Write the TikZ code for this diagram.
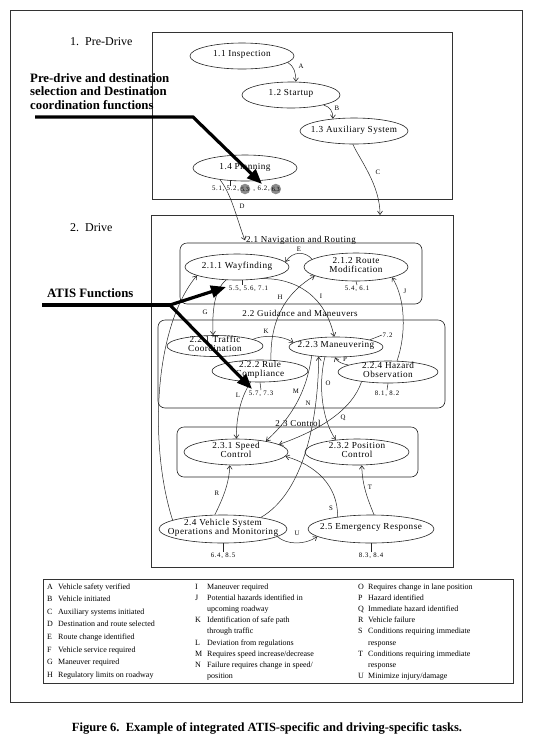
\documentclass[tikz,border=0pt]{standalone}
\usepackage{fontspec}
\setmainfont{Liberation Serif}
\newfontfamily\dfont[LetterSpace=5]{Liberation Serif}
\newfontfamily\nfont[LetterSpace=10]{Liberation Serif}
\usetikzlibrary{shapes.geometric,arrows.meta}
\newcommand\et[1]{\raisebox{-2.6pt}{\makebox[0pt]{\smash{\begin{tabular}{@{}c@{}}#1\end{tabular}}}}}
\newcommand\lgd[6]{%
  \node[lgl] (l#1) at (#2,#4) {#5};
  \node[lgl] (t#1) at (#3,#4) {#6};}
\begin{document}
\begin{tikzpicture}[x=1pt,y=-1pt,
  ln/.style={draw=black!85,line width=0.5pt},
  ell/.style={ellipse,draw=black!85,line width=0.6pt,fill=white,inner sep=0pt,
    font=\dfont\fontsize{9.2}{8.2}\selectfont},
  grp/.style={draw=black!85,line width=0.6pt,rounded corners=7pt},
  box/.style={draw=black!80,line width=0.6pt},
  arr/.style={draw=black!85,line width=0.5pt,-{Straight Barb[length=3.5pt,width=5pt,line width=0.6pt]}},
  cl/.style={font=\fontsize{6.8}{7}\selectfont,inner sep=0pt},
  num/.style={font=\nfont\fontsize{6.8}{7}\selectfont,inner sep=0.4pt},
  gc/.style={circle,fill=black!45,inner sep=0pt,minimum size=10.5pt,font=\fontsize{6.3}{7}\selectfont,text=black},
  glab/.style={font=\dfont\fontsize{9}{9}\selectfont,inner sep=0.8pt,anchor=base},
  sec/.style={font=\fontsize{12}{12}\selectfont,anchor=base west,inner sep=0pt},
  note/.style={font=\bfseries\fontsize{12.8}{13.5}\selectfont,align=left,anchor=north west,inner sep=0pt},
  bigline/.style={line width=3.2pt,line cap=butt},
  big/.style={line width=3.2pt,-{Triangle[length=15pt,width=12pt]}},
  lgl/.style={font=\fontsize{8}{9}\selectfont,anchor=base west,inner sep=0pt}
]
\fill[white] (0,0) rectangle (534,748);
\useasboundingbox (0,0) rectangle (534,748);

% frames
\draw[box] (10,10) rectangle (522,702);
\draw[box] (152,32) rectangle (452,199);
\draw[box] (151,215) rectangle (453,567);
\draw[box] (43,579) rectangle (513,683);
\draw[grp] (180,243) rectangle (422,304);
\draw[grp] (158,320) rectangle (445,408);
\draw[grp] (177,427) rectangle (418,477);

% section titles
\node[sec] (s1) at (70,45.5) {1.\ \ Pre-Drive};
\node[sec] (s2) at (70,231) {2.\ \ Drive};

% group labels
\node[glab] (nav) at (301,242.5) {2.1 Navigation and Routing};
\node[glab] (gui) at (300,316.5) {2.2 Guidance and Maneuvers};
\node[glab] (ctl) at (298,426) {2.3 Control};

% ellipses
\node[ell,minimum width=104pt,minimum height=26pt] (n11) at (242,56) {\et{1.1 Inspection}};
\node[ell,minimum width=98pt,minimum height=26pt] (n12) at (291,95) {\et{1.2 Startup}};
\node[ell,minimum width=108pt,minimum height=26pt] (n13) at (354,131) {\et{1.3 Auxiliary System}};
\node[ell,minimum width=104pt,minimum height=26pt] (n14) at (245,168) {\et{1.4 Planning}};
\node[ell,minimum width=104pt,minimum height=26pt] (n211) at (237,267) {\et{2.1.1 Wayfinding}};
\node[ell,minimum width=104pt,minimum height=28pt] (n212) at (356,267) {\et{2.1.2 Route\\Modification}};
\node[ell,minimum width=96pt,minimum height=21pt] (n221) at (215,346) {\et{2.2.1 Traffic\\Coordination}};
\node[ell,minimum width=96pt,minimum height=22pt] (n222) at (260,371) {\et{2.2.2 Rule\\Compliance}};
\node[ell,minimum width=94pt,minimum height=20pt] (n223) at (336,347) {\et{2.2.3 Maneuvering}};
\node[ell,minimum width=100pt,minimum height=22pt] (n224) at (388,372) {\et{2.2.4 Hazard\\Observation}};
\node[ell,minimum width=104pt,minimum height=26pt] (n231) at (236,452) {\et{2.3.1 Speed\\Control}};
\node[ell,minimum width=104pt,minimum height=26pt] (n232) at (357,452) {\et{2.3.2 Position\\Control}};
\node[ell,minimum width=128pt,minimum height=28pt] (n24) at (223,529) {\et{2.4 Vehicle System\\Operations and Monitoring}};
\node[ell,minimum width=126pt,minimum height=28pt] (n25) at (371,529) {\et{2.5 Emergency Response}};

% reference numbers
\node[gc] (p2) at (245,189) {5.3};
\node[num,anchor=east] (p1) at (p2.west) {5.1, 5.2,};
\node[num,anchor=west] (p3) at (p2.east) {\ , 6.2,};
\node[gc,anchor=west] (p4) at (p3.east) {6.3};
\draw[ln] (n14.-140) -- (n14.-140 |- p1.north);
\node[num] (m211) at (248.5,288.5) {5.5, 5.6, 7.1};
\draw[ln] (n211.-70) -- (n211.-70 |- m211.north);
\node[num] (m212) at (357,288.5) {5.4, 6.1};
\draw[ln] (n212.south) -- (m212.north);
\node[num] (m222) at (261,393.5) {5.7, 7.3};
\draw[ln] (n222.south) -- (m222.north);
\node[num] (m224) at (387,393.5) {8.1, 8.2};
\draw[ln] (n224.south) -- (m224.north);
\node[num,anchor=west] (m223) at (382,335) {7.2};
\draw[ln] (n223.12) -- (m223.west);
\node[num] (m24) at (223,555.5) {6.4, 8.5};
\draw[ln] (n24.south) -- (m24.north);
\node[num] (m25) at (371,555.5) {8.3, 8.4};
\draw[ln] (n25.south) -- (m25.north);

% connectors
\draw[arr] (n11.-8) .. controls (294,66) and (296,73) .. (n12.70);
\node[cl] (lA) at (301,66) {A};
\draw[arr] (n12.-17) .. controls (330,107) and (333,111) .. (n13.150);
\node[cl] (lB) at (337,108) {B};
\coordinate (cC) at (380,215);
\draw[arr] (n13.-95) .. controls (360,160) and (380,185) .. (cC);
\node[cl] (lC) at (378,172) {C};
\draw[arr] (n14.-155) .. controls (232,195) and (237,220) .. (nav.west);
\node[cl] (lD) at (242,206) {D};
\draw[arr] (n212.170) .. controls (305,251) and (293,251) .. (n211.6);
\node[cl] (lE) at (299,249) {E};
\draw[arr] (n24.170) .. controls (150,450) and (152,330) .. (n211.192);
\draw[arr] (n211.-130) .. controls (214,290) and (212,312) .. (n221.100);
\node[cl] (lG) at (205,312) {G};
\draw[arr] (n222.45) .. controls (270,325) and (282,295) .. (n212.-168);
\node[cl] (lH) at (280,297) {H};
\draw[arr] (n211.-25) .. controls (295,278) and (325,295) .. (n223.100);
\node[cl] (lI) at (321,296) {I};
\draw[arr] (n224.51) .. controls (406,335) and (406,300) .. (n212.-16);
\node[cl] (lJ) at (405,291) {J};
\draw[arr] (n221.10) .. controls (262,335) and (282,335) .. (n223.174);
\node[cl] (lK) at (266,331) {K};
\draw[arr] (n222.-130) .. controls (242,395) and (236,415) .. (n231.88);
\node[cl] (lL) at (238,395) {L};
\draw[arr] (n223.-160) .. controls (308,380) and (300,410) .. (n231.20);
\node[cl] (lM) at (296,391) {M};
\draw[arr] (n24.17) .. controls (300,495) and (318,430) .. (n223.-151);
\node[cl] (lN) at (308,403) {N};
\draw[arr] (n223.-138) .. controls (318,385) and (322,420) .. (n232.150);
\node[cl] (lO) at (328,383) {O};
\draw[arr] (n224.170) .. controls (343,364) and (337,362) .. (n223.-95);
\node[cl] (lP) at (345,359) {P};
\draw[arr] (n224.-160) .. controls (352,410) and (320,430) .. (n231.10);
\node[cl] (lQ) at (343,418) {Q};
\draw[arr] (n24.120) .. controls (222,500) and (229,485) .. (n231.-115);
\node[cl] (lR) at (217,493) {R};
\draw[arr] (n25.160) .. controls (338,485) and (315,465) .. (n231.-5);
\node[cl] (lS) at (331,508) {S};
\draw[arr] (n25.78) .. controls (368,500) and (362,485) .. (n232.-70);
\node[cl] (lT) at (370,487) {T};
\draw[arr] (n24.-8) .. controls (287,545) and (305,545) .. (n25.188);
\node[cl] (lU) at (297,533) {U};

% annotations
\node[note] (pre) at (30,73) {Pre-drive and destination\\selection and Destination\\coordination functions};
\coordinate (b1) at (35,117);
\coordinate (b2) at (193,117);
\coordinate (b3) at (262,184);
\draw[big,line join=miter] (b1) -- (b2) -- (b3);
\node[note] (atis) at (47,288) {ATIS Functions};
\coordinate (c1) at (42,305);
\coordinate (c2) at (170,305);
\coordinate (c3) at (226,287);
\coordinate (c4) at (252,389);
\draw[bigline] (c1) -- (c2);
\draw[big] (c2) -- (c3);
\draw[big] (c2) -- (c4);

% legend
\lgd{A}{47}{58}{589}{A}{Vehicle safety verified}
\lgd{B}{47}{58}{601.6}{B}{Vehicle initiated}
\lgd{C}{47}{58}{614.2}{C}{Auxiliary systems initiated}
\lgd{D}{47}{58}{626.8}{D}{Destination and route selected}
\lgd{E}{47}{58}{639.4}{E}{Route change identified}
\lgd{F}{47}{58}{652}{F}{Vehicle service required}
\lgd{G}{47}{58}{664.6}{G}{Maneuver required}
\lgd{H}{47}{58}{677.2}{H}{Regulatory limits on roadway}
\lgd{I}{195}{207}{589}{I}{Maneuver required}
\lgd{J}{195}{207}{600.2}{J}{Potential hazards identified in}
\node[lgl] (tJ2) at (207,611.4) {upcoming roadway};
\lgd{K}{195}{207}{622.6}{K}{Identification of safe path}
\node[lgl] (tK2) at (207,633.8) {through traffic};
\lgd{L}{195}{207}{645}{L}{Deviation from regulations}
\lgd{M}{195}{207}{656.2}{M}{Requires speed increase/decrease}
\lgd{N}{195}{207}{667.4}{N}{Failure requires change in speed/}
\node[lgl] (tN2) at (207,678.6) {position};
\lgd{O}{358}{368}{589}{O}{Requires change in lane position}
\lgd{P}{358}{368}{600.2}{P}{Hazard identified}
\lgd{Q}{358}{368}{611.4}{Q}{Immediate hazard identified}
\lgd{R}{358}{368}{622.6}{R}{Vehicle failure}
\lgd{S}{358}{368}{633.8}{S}{Conditions requiring immediate}
\node[lgl] (tS2) at (368,645) {response};
\lgd{T}{358}{368}{656.2}{T}{Conditions requiring immediate}
\node[lgl] (tT2) at (368,667.4) {response};
\lgd{U}{358}{368}{678.6}{U}{Minimize injury/damage}

% caption
\node[font=\bfseries\fontsize{12.5}{14}\selectfont,inner sep=0pt] (cap) at (267,728)
  {Figure 6.\ \ Example of integrated ATIS-specific and driving-specific tasks.};
\end{tikzpicture}
\end{document}
